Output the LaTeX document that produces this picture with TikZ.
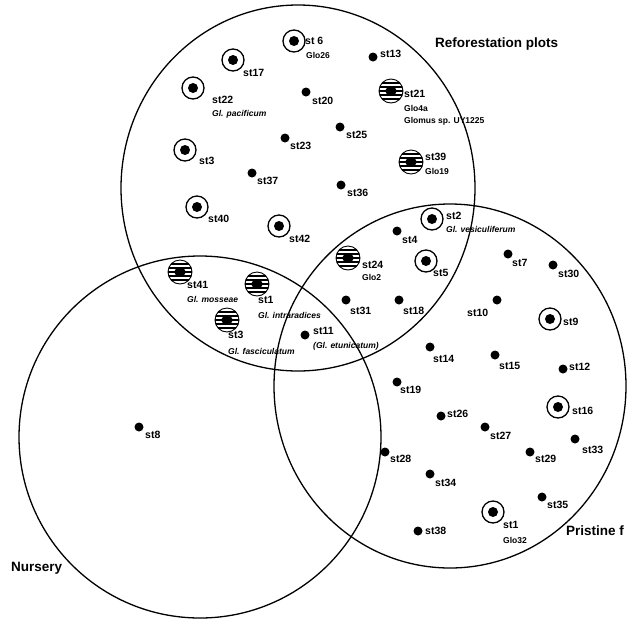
\documentclass[tikz,border=0pt]{standalone}
\usepackage{fontspec}
\setmainfont{Liberation Sans}
\tikzset{
  area/.style={draw=black,line width=1.3pt},
  areaname/.style={font=\bfseries\fontsize{13.5}{15}\selectfont,anchor=west,inner sep=0pt},
  lab/.style={font=\bfseries\fontsize{10.5}{12}\selectfont,anchor=west,inner sep=0pt},
  sublab/.style={font=\bfseries\fontsize{8.5}{10}\selectfont,anchor=west,inner sep=0pt},
  species/.style={sublab,font=\bfseries\itshape\fontsize{8.5}{10}\selectfont},
  dotsite/.style={circle,fill=black,inner sep=0pt,minimum size=9pt},
  ringsite/.style={circle,draw=black,line width=1.3pt,inner sep=0pt,minimum size=22pt,
    path picture={\fill[black] (path picture bounding box.center) circle (5pt);}},
  stripesite/.style={circle,draw=black,line width=0.9pt,inner sep=0pt,minimum size=24pt,
    path picture={
      \foreach \k in {-8,-4,...,8}
        \draw[line width=1.6pt] ([yshift=\k pt]path picture bounding box.west) -- ([yshift=\k pt]path picture bounding box.east);
      \fill[black] (path picture bounding box.center) ellipse (6pt and 4pt);}}
}
\begin{document}
\begin{tikzpicture}[x=1pt,y=-1pt]
\path[use as bounding box] (0,0) rectangle (637,622);
% sampling areas
\draw[area] (298,188) ellipse (177 and 183);
\draw[area] (200,437) circle (181);
\draw[area] (450,386) ellipse (176 and 182);
\node[areaname] (refname) at (435,44) {Reforestation plots};
\node[areaname] (prisname) at (566,531) {Pristine f};
\node[areaname] (nursname) at (11,568) {Nursery};
% reforestation plots
\node[ringsite] (s6) at (294,41) {}; \node[lab] (s6l) at (305,41) {st 6}; \node[sublab] (s6t) at (306,55) {Glo26};
\node[ringsite] (s17) at (233,60) {}; \node[lab] (s17l) at (243,73) {st17};
\node[dotsite] (s13) at (373,57) {}; \node[lab] (s13l) at (380,54) {st13};
\node[ringsite] (s22) at (193,88) {}; \node[lab] (s22l) at (212,100) {st22}; \node[species] (s22t) at (212,114) {Gl. pacificum};
\node[dotsite] (s20) at (306,92) {}; \node[lab] (s20l) at (312,101) {st20};
\node[stripesite] (s21) at (391,91) {}; \node[lab] (s21l) at (404,94) {st21};
\node[sublab] (s21t) at (404,108) {Glo4a}; \node[sublab] (s21u) at (404,121) {Glomus sp. UY1225};
\node[dotsite] (s25) at (340,127) {}; \node[lab] (s25l) at (346,135) {st25};
\node[dotsite] (s23) at (285,138) {}; \node[lab] (s23l) at (290,146) {st23};
\node[stripesite] (s39) at (411,162) {}; \node[lab] (s39l) at (425,157) {st39}; \node[sublab] (s39t) at (425,171) {Glo19};
\node[ringsite] (s3) at (185,150) {}; \node[lab] (s3l) at (199,161) {st3};
\node[dotsite] (s37) at (252,173) {}; \node[lab] (s37l) at (257,181) {st37};
\node[dotsite] (s36) at (341,185) {}; \node[lab] (s36l) at (347,193) {st36};
\node[ringsite] (s40) at (197,207) {}; \node[lab] (s40l) at (208,219) {st40};
\node[ringsite] (s42) at (279,226) {}; \node[lab] (s42l) at (289,239) {st42};
\node[stripesite] (s41) at (180,272) {}; \node[lab] (s41l) at (187,285) {st41}; \node[species] (s41t) at (187,299) {Gl. mosseae};
\node[stripesite] (s1) at (257,284) {}; \node[lab] (s1l) at (258,300) {st1}; \node[species] (s1t) at (258,315) {Gl. intraradices};
\node[stripesite] (s3b) at (227,320) {}; \node[lab] (s3bl) at (228,335) {st3}; \node[species] (s3bt) at (228,351) {Gl. fasciculatum};
\node[dotsite] (s11) at (305,335) {}; \node[lab] (s11l) at (313,331) {st11}; \node[species] (s11t) at (313,346) {(Gl. etunicatum)};
\node[stripesite] (s24) at (348,258) {}; \node[lab] (s24l) at (362,265) {st24}; \node[sublab] (s24t) at (362,277) {Glo2};
\node[ringsite] (s2) at (432,219) {}; \node[lab] (s2l) at (446,216) {st2}; \node[species] (s2t) at (446,229) {Gl. vesiculiferum};
\node[dotsite] (s4) at (397,231) {}; \node[lab] (s4l) at (402,240) {st4};
\node[ringsite] (s5) at (426,261) {}; \node[lab] (s5l) at (433,273) {st5};
\node[dotsite] (s31) at (346,300) {}; \node[lab] (s31l) at (350,311) {st31};
\node[dotsite] (s18) at (399,300) {}; \node[lab] (s18l) at (403,311) {st18};
% pristine forest
\node[dotsite] (s7) at (508,254) {}; \node[lab] (s7l) at (512,263) {st7};
\node[dotsite] (s30) at (553,265) {}; \node[lab] (s30l) at (558,274) {st30};
\node[dotsite] (s10) at (497,300) {}; \node[lab] (s10l) at (467,313) {st10};
\node[ringsite] (s9) at (550,319) {}; \node[lab] (s9l) at (563,322) {st9};
\node[dotsite] (s14) at (430,347) {}; \node[lab] (s14l) at (433,359) {st14};
\node[dotsite] (s15) at (495,355) {}; \node[lab] (s15l) at (499,366) {st15};
\node[dotsite] (s12) at (563,369) {}; \node[lab] (s12l) at (569,367) {st12};
\node[dotsite] (s19) at (397,382) {}; \node[lab] (s19l) at (400,390) {st19};
\node[ringsite] (s16) at (558,407) {}; \node[lab] (s16l) at (572,411) {st16};
\node[dotsite] (s26) at (441,416) {}; \node[lab] (s26l) at (447,414) {st26};
\node[dotsite] (s27) at (485,427) {}; \node[lab] (s27l) at (490,436) {st27};
\node[dotsite] (s33) at (575,439) {}; \node[lab] (s33l) at (582,450) {st33};
\node[dotsite] (s29) at (530,452) {}; \node[lab] (s29l) at (535,459) {st29};
\node[dotsite] (s28) at (385,452) {}; \node[lab] (s28l) at (390,459) {st28};
\node[dotsite] (s34) at (430,474) {}; \node[lab] (s34l) at (435,483) {st34};
\node[dotsite] (s35) at (542,497) {}; \node[lab] (s35l) at (547,505) {st35};
\node[ringsite] (s1p) at (493,512) {}; \node[lab] (s1pl) at (503,525) {st1}; \node[sublab] (s1pt) at (503,540) {Glo32};
\node[dotsite] (s38) at (418,531) {}; \node[lab] (s38l) at (425,531) {st38};
% nursery
\node[dotsite] (s8) at (139,427) {}; \node[lab] (s8l) at (145,435) {st8};
\end{tikzpicture}
\end{document}
